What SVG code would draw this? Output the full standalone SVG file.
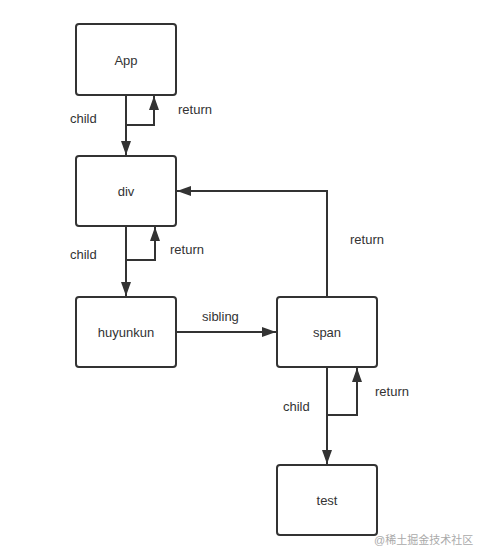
<svg xmlns="http://www.w3.org/2000/svg" width="479" height="560" viewBox="0 0 479 560">
<style>
.node rect{fill:#fff;stroke:#333;stroke-width:2}
text{font-family:"Liberation Sans",Arial,sans-serif;font-size:13px;fill:#333}
.node text{text-anchor:middle}
.edge{fill:none;stroke:#333;stroke-width:2}
.wm{font-family:"Liberation Sans","Noto Sans CJK SC",sans-serif;font-size:11px;fill:#aaa}
</style>
<defs>
<marker id="ah" viewBox="0 0 14 10" refX="14" refY="5" markerWidth="14" markerHeight="10" markerUnits="userSpaceOnUse" orient="auto">
<path d="M0,0 L14,5 L0,10 Z" fill="#333"/>
</marker>
</defs>
<rect width="479" height="560" fill="#fff"/>
<g id="edges">
<path class="edge" d="M126,95 V155" marker-end="url(#ah)"/>
<path class="edge" d="M126,125 H154 V96" marker-end="url(#ah)"/>
<path class="edge" d="M126,226 V296" marker-end="url(#ah)"/>
<path class="edge" d="M126,260 H155 V227" marker-end="url(#ah)"/>
<path class="edge" d="M176,332 H276" marker-end="url(#ah)"/>
<path class="edge" d="M327,297 V191 H177" marker-end="url(#ah)"/>
<path class="edge" d="M327,367 V464" marker-end="url(#ah)"/>
<path class="edge" d="M327,415 H357 V368" marker-end="url(#ah)"/>
<text x="70" y="123">child</text>
<text x="178" y="114">return</text>
<text x="70" y="259">child</text>
<text x="170" y="254">return</text>
<text x="202" y="321">sibling</text>
<text x="350" y="244">return</text>
<text x="283" y="411">child</text>
<text x="375" y="396">return</text>
</g>
<g id="App" class="node"><rect x="76" y="24" width="100" height="71" rx="3"/><text x="126" y="65">App</text></g>
<g id="div" class="node"><rect x="76" y="156" width="100" height="70" rx="3"/><text x="126" y="196">div</text></g>
<g id="huyunkun" class="node"><rect x="76" y="297" width="100" height="70" rx="3"/><text x="126" y="337">huyunkun</text></g>
<g id="span" class="node"><rect x="277" y="297" width="100" height="70" rx="3"/><text x="327" y="337">span</text></g>
<g id="test" class="node"><rect x="277" y="465" width="100" height="70" rx="3"/><text x="327" y="505">test</text></g>
<text class="wm" x="374" y="544">@稀土掘金技术社区</text>
</svg>
